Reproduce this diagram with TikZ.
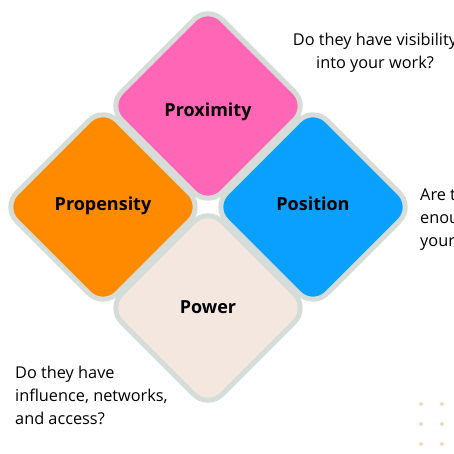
\documentclass[tikz,border=0pt]{standalone}
\usepackage{fontspec}
\setmainfont{Open Sans}
\usetikzlibrary{shapes.geometric}
\definecolor{rimgrey}{HTML}{D6DCD8}
\definecolor{proxpink}{HTML}{FF66B5}
\definecolor{propor}{HTML}{FF8A00}
\definecolor{posblue}{HTML}{0AA0FF}
\definecolor{powcream}{HTML}{F4E7E0}
\definecolor{dotpeach}{HTML}{F3D8CA}

\begin{document}
\begin{tikzpicture}[x=1pt,y=-1pt,
      tile/.style={diamond,draw=rimgrey,line width=5pt,rounded corners=20pt,minimum width=203pt,minimum height=203pt,inner sep=0pt,font=\fontsize{18}{20}\selectfont\bfseries},
      note/.style={inner sep=0pt,font=\fontsize{16.3}{23}\selectfont}]
      \useasboundingbox (0,0) rectangle (454,454);
      \clip (0,0) rectangle (454,454);
      % the four tiles, label baselines set by hand
      \node[tile,fill=proxpink] (prox) at (208,106) {\raisebox{-11pt}[0pt][0pt]{Proximity}};
      \node[tile,fill=propor] (prop) at (103,207) {\raisebox{-3pt}[0pt][0pt]{Propensity}};
      \node[tile,fill=posblue] (posi) at (313,207) {\raisebox{-3pt}[0pt][0pt]{Position}};
      \node[tile,fill=powcream] (powr) at (208,308) {\raisebox{-5pt}[0pt][0pt]{Power}};
      \node[note,align=center] (qprox) at (375,53) {Do they have visibility\\into your work?};
      \node[note,align=left,anchor=west] (qposi) at (420,219) {Are they\\enough\\your};
      \node[note,align=left,anchor=west] (qpowr) at (15,395) {Do they have\\influence, networks,\\and access?};
      \foreach \dx in {421,442}
        \foreach \dy in {404,424,444}
          \fill[dotpeach] (\dx,\dy) circle (2pt);
    \end{tikzpicture}
\end{document}
